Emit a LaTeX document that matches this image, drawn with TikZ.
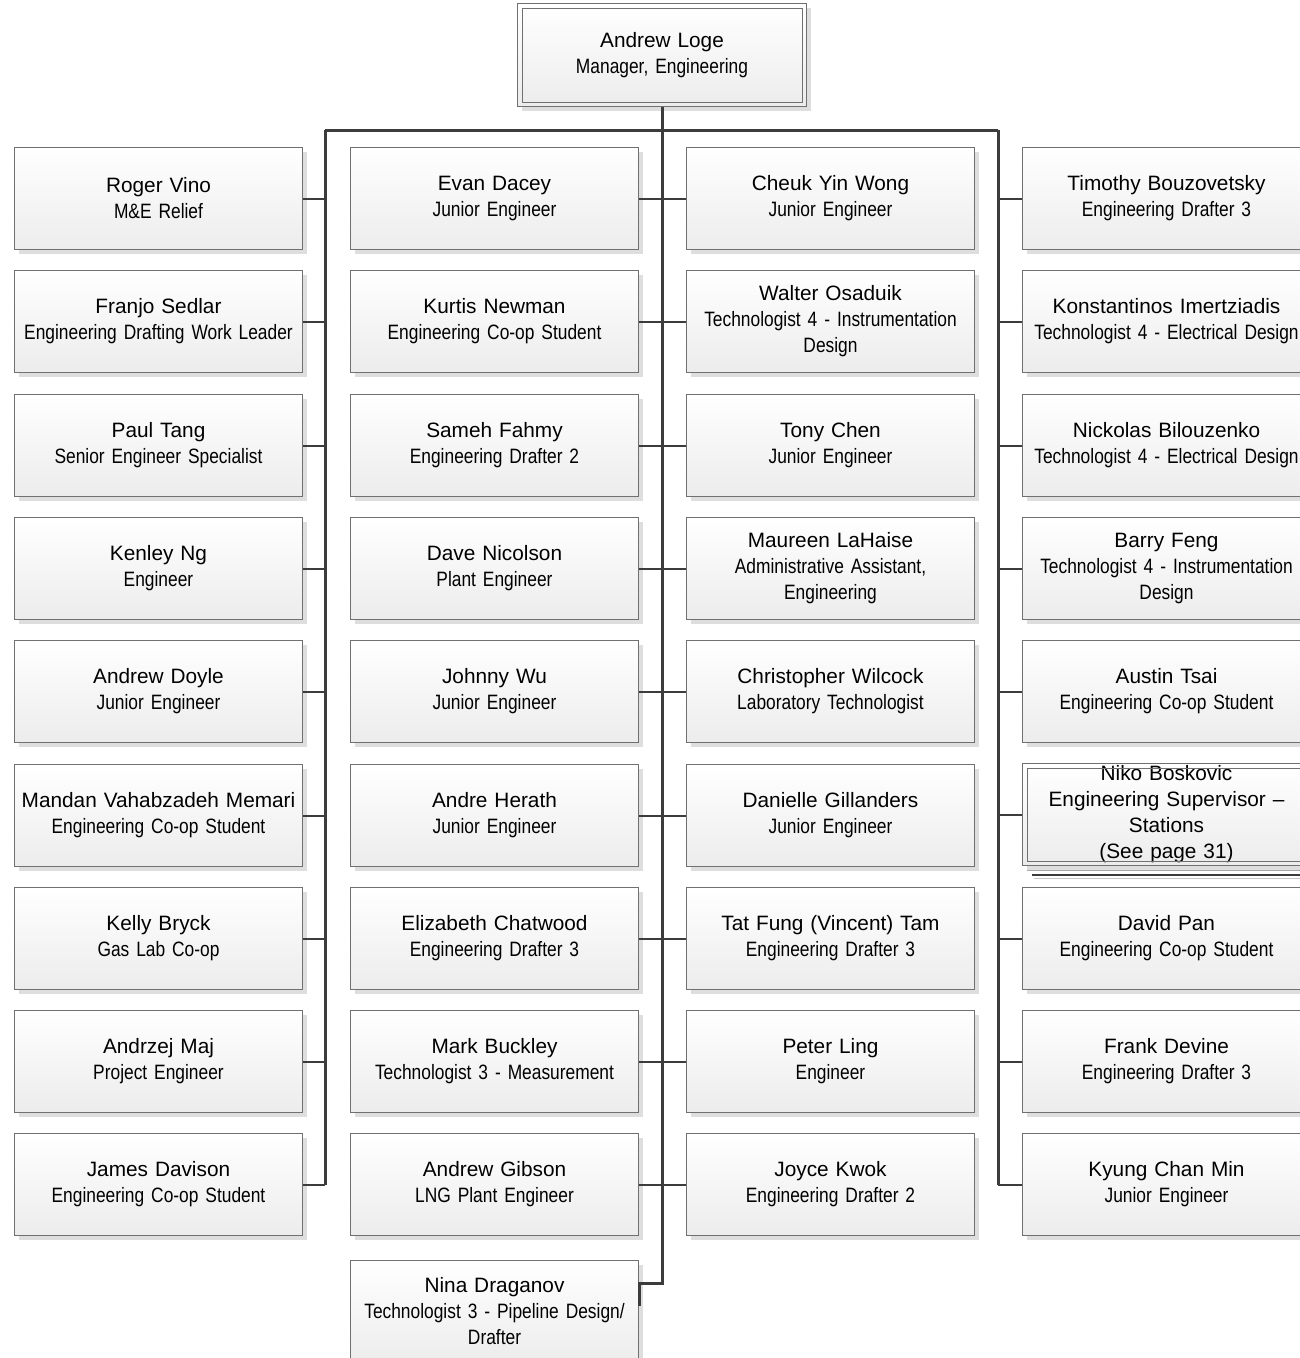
\documentclass[tikz,border=0pt]{standalone}
\usepackage{fontspec}
\setmainfont{Liberation Sans}
\newfontfamily\narrowfam[FakeStretch=0.835,WordSpace=0.85]{Liberation Sans}
\usetikzlibrary{shadows}
\newcommand\namefont{\rmfamily\fontsize{20.8}{26}\selectfont}
\newcommand\titlefont{\narrowfam\fontsize{20.8}{26}\selectfont}
\newcommand\ttl[1]{{\titlefont #1}}
\definecolor{cardedge}{RGB}{112,112,112}
\definecolor{cardlow}{RGB}{236,236,236}
\definecolor{shadowgray}{RGB}{222,222,222}
\definecolor{linkgray}{RGB}{60,60,60}
\tikzset{
  card/.style={draw=cardedge, line width=1pt, top color=white, bottom color=cardlow,
    minimum width=288pt, minimum height=102pt, anchor=north west, inner sep=0pt,
    align=center, text width=286pt, font=\namefont,
    general shadow={fill=shadowgray, shadow xshift=4pt, shadow yshift=-4pt}},
  bus/.style={draw=linkgray, line width=3pt},
  stub/.style={draw=linkgray, line width=2pt},
  frame/.style={draw=cardedge, line width=1pt}
}
\begin{document}
\begin{tikzpicture}[x=1pt, y=-1pt]
\clip (0,0) rectangle (1300,1358);

% head of the department
\node[card, minimum width=289pt, minimum height=103pt] (boss) at (517,3)
  {Andrew Loge\\\ttl{Manager, Engineering}};
\draw[frame] ([xshift=5pt,yshift=-5pt]boss.north west) rectangle ([xshift=-5pt,yshift=5pt]boss.south east);

% first column
\node[card] (a0) at (14,147)  {Roger Vino\\\ttl{M\&E Relief}};
\node[card] (a1) at (14,270)  {Franjo Sedlar\\\ttl{Engineering Drafting Work Leader}};
\node[card] (a2) at (14,394)  {Paul Tang\\\ttl{Senior Engineer Specialist}};
\node[card] (a3) at (14,517)  {Kenley Ng\\\ttl{Engineer}};
\node[card] (a4) at (14,640)  {Andrew Doyle\\\ttl{Junior Engineer}};
\node[card] (a5) at (14,764)  {Mandan Vahabzadeh Memari\\\ttl{Engineering Co-op Student}};
\node[card] (a6) at (14,887)  {Kelly Bryck\\\ttl{Gas Lab Co-op}};
\node[card] (a7) at (14,1010) {Andrzej Maj\\\ttl{Project Engineer}};
\node[card] (a8) at (14,1133) {James Davison\\\ttl{Engineering Co-op Student}};

% second column
\node[card] (b0) at (350,147)  {Evan Dacey\\\ttl{Junior Engineer}};
\node[card] (b1) at (350,270)  {Kurtis Newman\\\ttl{Engineering Co-op Student}};
\node[card] (b2) at (350,394)  {Sameh Fahmy\\\ttl{Engineering Drafter 2}};
\node[card] (b3) at (350,517)  {Dave Nicolson\\\ttl{Plant Engineer}};
\node[card] (b4) at (350,640)  {Johnny Wu\\\ttl{Junior Engineer}};
\node[card] (b5) at (350,764)  {Andre Herath\\\ttl{Junior Engineer}};
\node[card] (b6) at (350,887)  {Elizabeth Chatwood\\\ttl{Engineering Drafter 3}};
\node[card] (b7) at (350,1010) {Mark Buckley\\\ttl{Technologist 3 - Measurement}};
\node[card] (b8) at (350,1133) {Andrew Gibson\\\ttl{LNG Plant Engineer}};
\node[card] (b9) at (350,1260) {Nina Draganov\\\ttl{Technologist 3 - Pipeline Design/}\\\ttl{Drafter}};

% third column
\node[card] (c0) at (686,147)  {Cheuk Yin Wong\\\ttl{Junior Engineer}};
\node[card] (c1) at (686,270)  {Walter Osaduik\\\ttl{Technologist 4 - Instrumentation}\\\ttl{Design}};
\node[card] (c2) at (686,394)  {Tony Chen\\\ttl{Junior Engineer}};
\node[card] (c3) at (686,517)  {Maureen LaHaise\\\ttl{Administrative Assistant,}\\\ttl{Engineering}};
\node[card] (c4) at (686,640)  {Christopher Wilcock\\\ttl{Laboratory Technologist}};
\node[card] (c5) at (686,764)  {Danielle Gillanders\\\ttl{Junior Engineer}};
\node[card] (c6) at (686,887)  {Tat Fung (Vincent) Tam\\\ttl{Engineering Drafter 3}};
\node[card] (c7) at (686,1010) {Peter Ling\\\ttl{Engineer}};
\node[card] (c8) at (686,1133) {Joyce Kwok\\\ttl{Engineering Drafter 2}};

% fourth column
\node[card] (d0) at (1022,147)  {Timothy Bouzovetsky\\\ttl{Engineering Drafter 3}};
\node[card] (d1) at (1022,270)  {Konstantinos Imertziadis\\\ttl{Technologist 4 - Electrical Design}};
\node[card] (d2) at (1022,394)  {Nickolas Bilouzenko\\\ttl{Technologist 4 - Electrical Design}};
\node[card] (d3) at (1022,517)  {Barry Feng\\\ttl{Technologist 4 - Instrumentation}\\\ttl{Design}};
\node[card] (d4) at (1022,640)  {Austin Tsai\\\ttl{Engineering Co-op Student}};
% stacked card pointing to another page
\draw[frame, draw=cardedge!60] (1027,870) -- (1300,870);
\draw[frame, draw=linkgray, line width=1.2pt] (1032,875) -- (1300,875);
\draw[frame, draw=cardedge!40] (1034,878) -- (1300,878);
\node[card] (d5) at (1022,763)  {Niko Boskovic\\Engineering Supervisor --\\Stations\\(See page 31)};
\draw[frame] ([xshift=5pt,yshift=-5pt]d5.north west) rectangle ([xshift=-5pt,yshift=5pt]d5.south east);
\node[card] (d6) at (1022,887)  {David Pan\\\ttl{Engineering Co-op Student}};
\node[card] (d7) at (1022,1010) {Frank Devine\\\ttl{Engineering Drafter 3}};
\node[card] (d8) at (1022,1133) {Kyung Chan Min\\\ttl{Junior Engineer}};

% reporting lines
\coordinate (jl) at (325,130);
\coordinate (jr) at (998,130);
\coordinate (tend) at (boss.south |- 0,1283);
\draw[bus] (jl) -- (jr);
\draw[bus] (jl) -- (jl |- a8.east);
\draw[bus] (jr) -- (jr |- d8.west);
\draw[bus] (boss.south) -- (tend) -- (tend -| b9.east) -- ++(0,23);
\foreach \k in {0,...,8} {
  \draw[stub] (a\k.east) -- (a\k.east -| jl);
  \draw[stub] (b\k.east) -- (b\k.east -| tend);
  \draw[stub] (c\k.west) -- (c\k.west -| tend);
  \draw[stub] (d\k.west) -- (d\k.west -| jr);
}
\end{tikzpicture}
\end{document}
